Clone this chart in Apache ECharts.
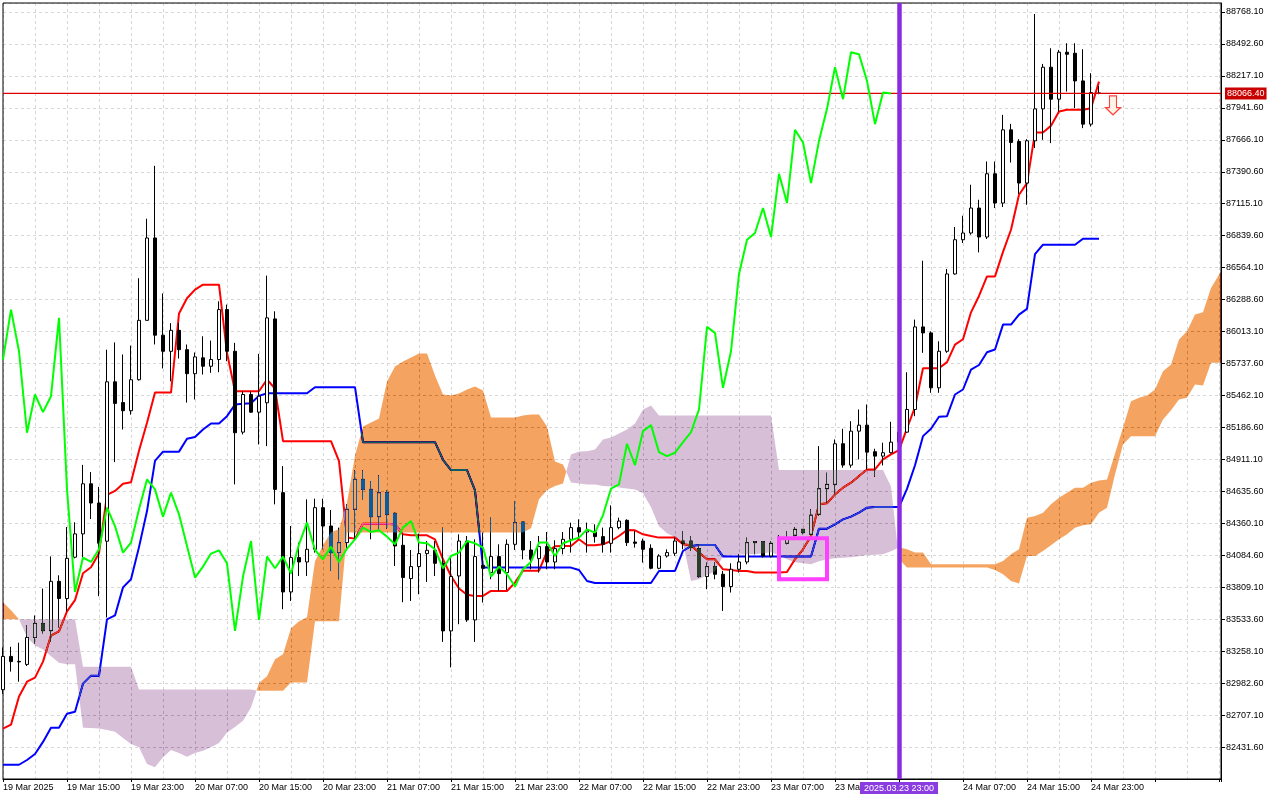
<!DOCTYPE html>
<html>
<head>
<meta charset="utf-8">
<script src="https://cdn.jsdelivr.net/npm/echarts@6/dist/echarts.min.js"></script>
<style>html,body{margin:0;padding:0;background:#fff}#chart{width:1280px;height:800px}</style>
</head>
<body>
<div id="chart"></div>
<script>
// ---- hourly bars, 19 Mar 2025 07:00 ... 25 Mar 00:00 (index = hour since first bar)
const opens = [82926,83213,83170,83144,83376,83497,83435,83860,83712,84068,
84269,84701,84535,84206,85580,85401,85331,85598,86110,86820,
85982,85843,86024,85857,85650,85786.7,85714.3,85772.0,86202.5,85843.5,
85146.1,85470.7,85318.3,85399.2,86122.4,84624.4,83768.6,84064.8,84026.9,84136.2,
84495.2,84336.8,84107.8,84193.9,84480.6,84738.9,84652.8,84417.7,84624.4,84446.2,
84170.7,83884.0,83987.3,84099.2,84127.6,84015.7,83432.8,83906.4,84207.7,83527.5,
83998.5,83935.6,84073.4,83935.6,84179.3,84371.3,84130.2,84056.2,84159.4,84026.9,
84142.2,84222.3,84323.0,84285.2,84285.2,84245.6,84187.9,84323.0,84385.9,84199.1,
84207.7,84144.8,83972.6,84078.5,84101.8,84207.7,84207.7,84142.2,83901.2,83987.3,
83921.0,83815.1,83964.0,84026.9,84202.5,84202.5,84078.5,84187.9,84187.9,84256.8,
84308.4,84265.4,84437.6,84658.8,84695.8,85046.2,84862.0,85154.7,85206.4,84977.4,
84939.5,84968.8,85060.0,85146.1,85341.5,86053.5,86001.9,85528.4,85843.5,86509.8,
86805.1,86862.8,87078.1,86828.4,87373.4,87121.1,87752.2,87651.4,87293.3,87657.5,
87933.0,88292.0,88016.5,88421.1,88412.5,88174.0,87801.3,88070.7];
const highs = [83290,83296,83331,83480,83566,83798,84075,83912,84328,84369,
84864,84802,84674,85857,85920,85816,85892,86473,86986,87442,
86342,86086,86086,85902,85833,85972.6,85935.6,86273.9,86245.5,85915.8,
85499.1,85499.1,85821.1,86495.2,86187.9,84853.4,84336.8,84193.9,84566.7,84572.7,
84572.7,84474.6,84323.0,84523.7,84816.4,84816.4,84724.2,84773.3,84646.8,84452.2,
84265.4,84130.2,84271.4,84207.7,84207.7,84323.0,84064.8,84265.4,84250.7,84222.3,
84280.0,84409.1,84179.3,84222.3,84552.1,84379.9,84207.7,84250.7,84285.2,84213.7,
84285.2,84366.1,84394.5,84366.1,84351.5,84323.0,84515.0,84409.1,84394.5,84293.8,
84228.3,84179.3,84093.2,84136.2,84237.0,84293.8,84250.7,84179.3,84021.7,84026.9,
83949.5,84015.7,84093.2,84237.0,84207.7,84207.7,84207.7,84256.8,84293.8,84328.3,
84308.4,84480.6,85025.6,84796.6,85083.3,85175.4,85240.8,85341.5,85384.6,85003.2,
85054.9,85235.6,85212.4,85662.7,86116.4,86624.3,86015.7,85929.6,86552.9,86914.5,
87011.8,87278.7,87149.5,87479.3,87479.3,87881.3,87803.8,87672.1,87672.1,88750.9,
88320.4,88455.6,88440.9,88498.6,88498.6,88447.0,88240.3,88131.0];
const lows = [82890,83082,82995,83130,83324,83411,83341,83462,83601,84058,
84068,84397,83732,83549,84888,85169,85297,85591,86110,85902,
85695,85584,85781,85401,85428,85642.9,85657.5,85662.7,85757.4,84695.8,
85126.3,85313.1,85040.2,85025.6,84523.7,83619.7,83691.1,83906.4,83906.4,84107.8,
84136.2,83949.5,83877.9,84136.2,84222.3,84566.7,84222.3,84308.4,84314.4,83992.5,
83679.9,83691.1,83748.8,83854.7,83906.4,83338.1,83117.7,83490.5,83510.3,83338.1,
83677.4,83877.9,83777.2,83785.9,84130.2,84050.1,83964.0,83935.6,83964.0,83964.0,
84093.2,84107.8,84222.3,84107.8,84193.9,84107.8,84107.8,84308.4,84164.6,84150.8,
84021.7,83964.0,83964.0,84064.8,84078.5,84136.2,84121.6,83892.6,83791.9,83877.9,
83605.0,83763.5,83935.6,84007.1,84093.2,84064.8,84064.8,84162.0,84179.3,84237.0,
84265.4,84265.4,84422.9,84538.3,84609.7,84839.6,84839.6,84911.1,84825.0,84762.1,
84859.4,84962.7,85023.0,85140.9,85283.9,85829.7,85485.3,85485.3,85829.7,86503.8,
86776.7,86848.2,86695.8,86811.2,87078.1,87086.7,87470.7,87198.6,87106.5,87594.6,
87666.1,87637.7,87909.7,88081.9,87939.0,87766.8,87780.6,88059.5];
const closes = [83213,83168,83165,83376,83497,83435,83860,83712,84058,84269,
84701,84535,84189,85580,85394,85331,85598,86110,86820,85982,
85843,86024,85857,85650,85795,85714.3,85772.0,86202.5,85843.5,85140.9,
85470.7,85318.3,85456.1,86131.0,84652.8,83768.6,84064.8,84026.9,84136.2,84495.2,
84336.8,84107.8,84193.9,84480.6,84738.9,84652.8,84417.7,84624.4,84437.6,84164.6,
83892.6,83987.3,84099.2,84127.6,84015.7,83432.8,83901.2,84207.7,83527.5,84073.4,
83972.6,84073.4,83927.0,84179.3,84366.1,84130.2,84050.1,84159.4,84026.9,84142.2,
84222.3,84323.0,84285.2,84299.8,84245.6,84179.3,84323.0,84379.9,84193.9,84187.9,
84136.2,83972.6,84078.5,84107.8,84207.7,84187.9,84150.8,83901.2,83987.3,83921.0,
83815.1,83964.0,84026.9,84193.9,84193.9,84078.5,84187.9,84213.7,84237.0,84308.4,
84280.0,84431.5,84658.8,84695.8,85046.2,84862.0,85154.7,85206.4,84973.9,84939.5,
84968.8,85060.0,85146.1,85341.5,86053.5,86001.9,85528.4,85843.5,86509.8,86805.1,
86862.8,87078.1,86828.4,87373.4,87121.1,87752.2,87642.8,87293.3,87657.5,87933.0,
88292.0,88016.5,88421.1,88403.9,88174.0,87801.3,88073.3,88066.4];

// ---- Ichimoku lines
const tenkan = [82590,82625,82867,82995,83030,83168,83393,83428,83601,83698,
83930,83982,84103,84605,84639,84701,84715,84985,85228,85487,
85487,85487,86169,86300,86375,86417.6,86417.6,86417.6,85829.7,85499.1,
85499.1,85499.1,85499.1,85599.8,85522,85068.6,85068.6,85068.6,85068.6,85068.6,
85068.6,85068.6,84896.4,84237.0,84228.3,84357.4,84357.4,84357.4,84357.4,84351,
84265.4,84256.8,84256.8,84256.8,84222.3,84050,83906.4,83799,83744,83734.1,
83734.1,83777.2,83777.2,83777.2,83849,83952,83952,83952,84115,84162,
84164.6,84164.6,84222.3,84170.7,84170.7,84179.3,84207.7,84250.7,84302.4,84299.8,
84265.4,84250.7,84237.0,84237.0,84237.0,84179.3,84170.7,84107.8,84050.1,84050.1,
83964.0,83958.0,83949.5,83949.5,83935.6,83935.6,83935.6,83935.6,83940.8,84050,
84136.2,84250.7,84523.7,84532.3,84609.7,84667.4,84710.4,84767.2,84825.0,84825.0,
84911.1,84954.1,84991.2,85179,85363,85697,85697,85697,85750,85901.1,
85947,86179,86320,86488.6,86488.6,86700,86891.2,87192.5,87293.3,87728.9,
87728.9,87786.6,87909.7,87924.7,87924.7,87924.7,87939.0,88168.0];
const kijun = [82279,82279,82279,82320,82372,82476,82597,82597,82718,82736,
82978,83047,83047,83532,83566,83808,83878,84155,84466,84899,
84978,84978,84978,85089,85105,85169.4,85221.1,85221.1,85283.9,85384.6,
85390.6,85396,85459,85482,85482,85482,85482,85482,85482,85533.6,
85533.6,85533.6,85533.6,85533.6,85533.6,85060,85060,85060,85060,85060,
85060,85060,85060,85060,85060,84908,84819,84819,84819,84645,
83978.6,83978.6,83978.6,83978.6,83978.6,83978.6,83978.6,83978.6,83978.6,83978.6,
83978.6,83978.6,83958,83863.2,83846,83846,83846,83846,83846,83846,
83846,83846,83949.5,83949.5,83949.5,84121.6,84164.6,84173.1,84173.1,84173.1,
84073.4,84073.4,84073.4,84073.4,84073.4,84073.4,84073.4,84073.4,84073.4,84073.4,
84073.4,84073.4,84314.4,84314.4,84351.5,84394.5,84417.7,84452.2,84495.2,84500.3,
84500.3,84500.3,84500.3,84657,84861,85111.7,85176,85278.7,85283.9,85470.7,
85513.8,85686,85725,85834.9,85858.1,86073.3,86073.3,86159.4,86208.5,86680,
86762.1,86762.1,86762.1,86762.1,86762.1,86813.8,86813.8,86813.8];
const chikou = [85772.0,86202.5,85843.5,85140.9,85470.7,85318.3,85456.1,86131.0,84652.8,83768.6,
84064.8,84026.9,84136.2,84495.2,84336.8,84107.8,84193.9,84480.6,84738.9,84652.8,
84417.7,84624.4,84437.6,84164.6,83892.6,83987.3,84099.2,84127.6,84015.7,83432.8,
83901.2,84207.7,83527.5,84073.4,83972.6,84073.4,83927.0,84179.3,84366.1,84130.2,
84050.1,84159.4,84026.9,84142.2,84222.3,84323.0,84285.2,84299.8,84245.6,84179.3,
84323.0,84379.9,84193.9,84187.9,84136.2,83972.6,84078.5,84107.8,84207.7,84187.9,
84150.8,83901.2,83987.3,83921.0,83815.1,83964.0,84026.9,84193.9,84193.9,84078.5,
84187.9,84213.7,84237.0,84308.4,84280.0,84431.5,84658.8,84695.8,85046.2,84862.0,
85154.7,85206.4,84973.9,84939.5,84968.8,85060.0,85146.1,85341.5,86053.5,86001.9,
85528.4,85843.5,86509.8,86805.1,86862.8,87078.1,86828.4,87373.4,87121.1,87752.2,
87642.8,87293.3,87657.5,87933.0,88292.0,88016.5,88421.1,88403.9,88174.0,87801.3,
88073.3,88066.4];
const spanA = [83679.9,83611,83533.6,83378.6,83307.2,83272.8,83214.2,83159.1,83144.5,83144.5,
82597.6,82596.7,82592.4,82577.8,82563.2,82508.9,82457.3,82428.9,82285.2,82256.8,
82342.9,82405.7,82379.9,82348.0,82379.9,82399.7,82428.9,82465.9,82558.0,82603.6,
82657.9,82773.2,82982.6,83042.9,83189.2,83232.4,83456.2,83516.5,83550.9,84033.1,
84170.8,84282.7,84308.6,84538.5,84945.5,85195.1,85229.6,85264.0,85582.6,85711.7,
85754.8,85789.2,85823.6,85823.6,85634.2,85470.6,85462.0,85479.3,85513.7,85539.6,
85505.2,85272.7,85272.7,85272.7,85272.7,85289.9,85298.6,85298.6,85195.1,84893.8,
84868.0,84713.1,84704.5,84695.8,84695.8,84681.3,84678.6,84670.0,84661.4,84652.8,
84618.4,84497.8,84334.2,84273.9,84239.5,84192.1,83863.2,83877.9,83912.3,83946.8,
84078.5,84084.6,84088.9,84093.2,84093.2,84101.8,84110.4,84084.6,84050.1,84024.3,
84015.7,84007.1,84032.9,84050.1,84058.7,84063.0,84067.4,84076.0,84084.6,84088.9,
84093.2,84119.0,84153.5,84136.2,84107.8,84107.8,84007.1,84007.1,84007.1,84007.1,
84007.1,84007.1,84007.1,84007.1,84007.1,84035.5,84093.2,84136.2,84409.1,84422.9,
84452.2,84523.7,84581.3,84624.4,84667.4,84667.4,84710.4,84730.2,84738.9,84962.7,
85186.6,85413.0,85442.3,85462.0,85513.7,85671.3,85729.0,85944.2,86015.7,86159.4,
86179.2,86389.3,86503.9,86607.2];
const spanB = [83533.6,83533.6,83533.6,83533.6,83533.6,83533.6,83533.6,83533.6,83533.6,83533.6,
83123.8,83123.8,83123.8,83123.8,83123.8,83123.8,83123.8,82926.6,82926.6,82926.6,
82926.6,82926.6,82926.6,82926.6,82926.6,82926.6,82926.6,82926.6,82926.6,82926.6,
82926.6,82926.6,82916.2,82916.2,82916.2,82916.2,82988.6,82988.6,82988.6,83516.5,
83516.5,83516.5,83516.5,84280.1,84280.1,84280.1,84280.1,84280.1,84280.1,84280.1,
84280.1,84280.1,84280.1,84280.1,84280.1,84280.1,84280.1,84280.1,84280.1,84280.1,
84280.1,84280.1,84280.1,84280.1,84280.1,84280.1,84317.0,84566.7,84646.8,84681.3,
84704.5,84954.1,84980.0,84982.5,84997.2,85083.3,85100.5,85134.9,85169.4,85221.0,
85341.5,85376.0,85290.0,85290.0,85290.0,85290.0,85290.0,85290.0,85290.0,85290.0,
85290.0,85290.0,85290.0,85290.0,85290.0,85290.0,85290.0,84819.0,84819.0,84819.0,
84819.0,84819.0,84819.0,84819.0,84819.0,84819.0,84819.0,84819.0,84819.0,84819.0,
84819.0,84678.6,84050.1,83978.6,83978.6,83978.6,83978.6,83978.6,83978.6,83978.6,
83978.6,83978.6,83978.6,83978.6,83958.0,83920.9,83863.2,83840.8,84078.5,84078.5,
84121.6,84170.7,84222.3,84265.4,84323.0,84342.8,84351.5,84452.2,84495.2,84781.9,
85040.4,85111.7,85111.7,85111.7,85111.7,85255.5,85335.6,85427.8,85442.3,85556.6,
85548.0,85743.5,85743.5,85743.5];

// ---- axis labels and annotations
const timeLabels = ['19 Mar 2025','19 Mar 15:00','19 Mar 23:00','20 Mar 07:00','20 Mar 15:00','20 Mar 23:00',
  '21 Mar 07:00','21 Mar 15:00','21 Mar 23:00','22 Mar 07:00','22 Mar 15:00','22 Mar 23:00',
  '23 Mar 07:00','23 Mar 15:00','','24 Mar 07:00','24 Mar 15:00','24 Mar 23:00'];
const labelEvery = 8;
const xMin = 0, xMax = 152.25;
const priceMin = 82156.1, priceMax = 88845.6, priceStep = 275.5;
const lastPrice = 88066.40;
const markerBar = [112];
const markerText = ['2025.03.23 23:00'];
const boxBars = [97, 103];
const boxPrices = [84231, 83878];
const arrowPoint = [138.75, 87963];

const FONT = 'Liberation Sans, Arial, sans-serif';
const GRID = '#d6d6d6';
// The cloud layer is blended with "difference": these fills show as
// sandy brown (#F4A460) and thistle (#D8BFD8) over the white background.
const KUMO_UP = '#0b5b9f', KUMO_DOWN = '#274027';

function renderCloud(params, api) {
  const children = [];
  let run = null;
  function flush() {
    if (run && run.top.length > 1) {
      const pts = run.top.concat(run.bot.slice().reverse());
      children.push({ type: 'polygon', shape: { points: pts },
        style: { fill: run.up ? KUMO_UP : KUMO_DOWN, stroke: null } });
    }
  }
  for (let i = 0; i < spanA.length; i++) {
    const a = spanA[i], b = spanB[i];
    const up = a >= b;
    if (run === null) {
      run = { up: up, top: [], bot: [] };
    } else if (up !== run.up) {
      const a0 = spanA[i - 1], b0 = spanB[i - 1];
      const d0 = a0 - b0, d1 = a - b;
      const t = (d0 - d1) !== 0 ? d0 / (d0 - d1) : 0;
      const pc = api.coord([i - 1 + t, a0 + (a - a0) * t]);
      run.top.push(pc); run.bot.push(pc);
      flush();
      run = { up: up, top: [pc], bot: [pc] };
    }
    run.top.push(api.coord([i, a]));
    run.bot.push(api.coord([i, b]));
  }
  flush();
  return { type: 'group', children: children };
}

const chartDom = document.getElementById('chart');
const chart = echarts.init(chartDom, null, { renderer: 'canvas' });
const option = {
  animation: false,
  backgroundColor: '#ffffff',
  tooltip: { show: false },
  grid: { left: 3, right: 59, top: 3, bottom: 21, show: true, borderColor: '#000', borderWidth: 1, z: 1,
          backgroundColor: 'transparent', containLabel: false, outerBoundsMode: 'none' },
  xAxis: {
    type: 'value', min: xMin, max: xMax, interval: labelEvery,
    axisLine: { show: true, onZero: false, lineStyle: { color: '#000', width: 1 } },
    axisTick: { show: true, length: 3, lineStyle: { color: '#000' } },
    minorTick: { show: false, splitNumber: 2 },
    minorSplitLine: { show: true, lineStyle: { color: GRID, type: [3, 3], width: 1 } },
    splitLine: { show: true, lineStyle: { color: GRID, type: [3, 3], width: 1 } },
    axisLabel: {
      show: true, align: 'left', margin: 4, fontSize: 9, fontFamily: FONT, color: '#000',
      showMinLabel: true, showMaxLabel: true, hideOverlap: false,
      formatter: function (v) {
        const k = Math.round(v / labelEvery);
        return (Math.abs(v - k * labelEvery) < 1e-6 && timeLabels[k]) ? timeLabels[k] : '';
      }
    }
  },
  yAxis: {
    type: 'value', position: 'right', min: priceMin, max: priceMax, interval: priceStep, scale: true,
    axisLine: { show: true, onZero: false, lineStyle: { color: '#000', width: 1 } },
    axisTick: { show: true, length: 4, lineStyle: { color: '#000' } },
    splitLine: { show: true, lineStyle: { color: GRID, type: [3, 3], width: 1 } },
    axisLabel: {
      show: true, margin: 5, fontSize: 9, fontFamily: FONT, color: '#000',
      showMinLabel: false, showMaxLabel: false, hideOverlap: false,
      formatter: function (v) { return v.toFixed(2); }
    }
  },
  series: [
    {
      type: 'candlestick', name: 'price', z: 2, silent: true, clip: true, barWidth: 4,
      data: opens.map(function (o, i) { return [i, o, closes[i], lows[i], highs[i]]; }),
      encode: { x: 0, y: [1, 2, 3, 4] },
      itemStyle: { color: '#ffffff', color0: '#000000', borderColor: '#000000', borderColor0: '#000000',
                   borderColorDoji: '#000000', borderWidth: 1 }
    },
    {
      type: 'line', name: 'Tenkan-sen', z: 2, silent: true, clip: true, symbol: 'none',
      data: tenkan.map(function (v, i) { return [i, v]; }),
      lineStyle: { color: '#ff0000', width: 2 }
    },
    {
      type: 'line', name: 'Kijun-sen', z: 2, silent: true, clip: true, symbol: 'none',
      data: kijun.map(function (v, i) { return [i, v]; }),
      lineStyle: { color: '#0000ff', width: 2 }
    },
    {
      type: 'custom', name: 'Kumo', zlevel: 1, z: 3, silent: true, clip: true,
      data: [[0, spanA[0]]], encode: { x: 0, y: 1 },
      renderItem: renderCloud
    },
    {
      type: 'line', name: 'Bid', zlevel: 2, z: 4, silent: true, clip: true, symbol: 'none',
      data: [[xMin, lastPrice], [xMax, lastPrice]],
      lineStyle: { color: '#dd0000', width: 1.3, type: 'solid' }
    },
    {
      type: 'line', name: 'Chikou Span', zlevel: 2, z: 5, silent: true, clip: true, symbol: 'none',
      data: chikou.map(function (v, i) { return [i, v]; }),
      lineStyle: { color: '#00ff00', width: 2 },
      markLine: {
        silent: true, zlevel: 2, z: 6, symbol: ['none', 'none'], animation: false,
        emphasis: { disabled: true },
        data: [
          { yAxis: lastPrice, lineStyle: { color: 'rgba(0,0,0,0)', width: 1, type: 'solid' },
            label: { show: true, position: 'end', distance: 4, formatter: lastPrice.toFixed(2),
                     color: '#ffffff', backgroundColor: '#c80000', padding: [2, 2, 1, 2],
                     fontSize: 9, fontFamily: FONT, opacity: 1 } },
          { xAxis: markerBar[0], lineStyle: { color: '#8a2be2', width: 4.5, type: 'solid', opacity: 1 },
            label: { show: true, position: 'start', distance: 3, formatter: markerText[0],
                     color: '#ffffff', backgroundColor: '#8a3ce0', padding: [2, 4, 1, 4],
                     fontSize: 9, fontFamily: FONT } }
        ]
      },
      markArea: {
        silent: true, zlevel: 2, z: 7,
        itemStyle: { color: 'rgba(0,0,0,0)', borderColor: '#ff40ff', borderWidth: 4 },
        data: [[{ coord: [boxBars[0], boxPrices[0]] }, { coord: [boxBars[1], boxPrices[1]] }]]
      },
      markPoint: {
        silent: true, zlevel: 2, z: 7,
        symbol: 'path://M4,0L11,0L11,11.7L15,11.7L7.5,19L0,11.7L4,11.7Z',
        symbolSize: [15, 19],
        label: { show: false },
        itemStyle: { color: '#fff4e6', borderColor: '#ff4040', borderWidth: 1.2 },
        data: [{ coord: arrowPoint }]
      }
    }
  ]
};

function blendCloudLayer() {
  const painter = chart.getZr().painter;
  let layer = null;
  try { layer = painter.getLayer ? painter.getLayer(1) : null; } catch (e) { layer = null; }
  if (layer && layer.dom) layer.dom.style.mixBlendMode = 'difference';
  const doms = chartDom.querySelectorAll('canvas[data-zr-dom-id="zr_1"]');
  doms.forEach(function (c) { c.style.mixBlendMode = 'difference'; });
}
chart.setOption(option);
blendCloudLayer();
requestAnimationFrame(blendCloudLayer);
</script>
</body>
</html>
